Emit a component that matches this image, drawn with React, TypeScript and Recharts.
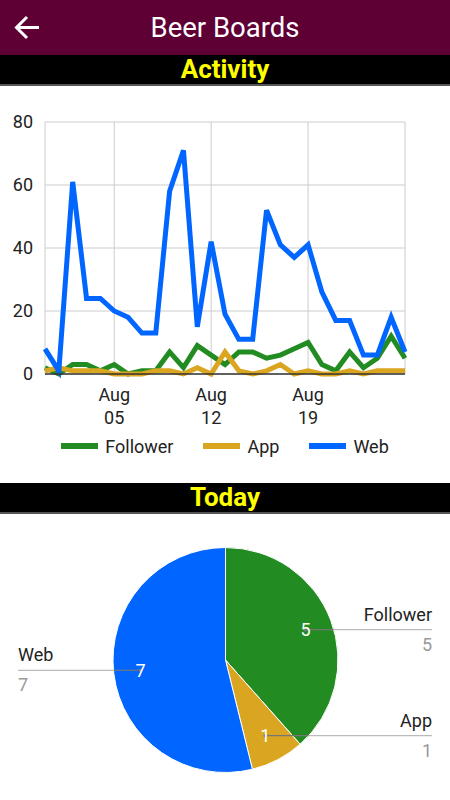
import React from "react";
import { CartesianGrid, Legend, Line, LineChart, Pie, PieChart, Cell, XAxis, YAxis } from "recharts";

const days = [
  "Jul 31", "Aug 01", "Aug 02", "Aug 03", "Aug 04", "Aug 05", "Aug 06", "Aug 07", "Aug 08",
  "Aug 09", "Aug 10", "Aug 11", "Aug 12", "Aug 13", "Aug 14", "Aug 15", "Aug 16", "Aug 17",
  "Aug 18", "Aug 19", "Aug 20", "Aug 21", "Aug 22", "Aug 23", "Aug 24", "Aug 25", "Aug 26",
];
const follower = [2, 0, 3, 3, 1, 3, 0, 1, 1, 7, 2, 9, 6, 3, 7, 7, 5, 6, 8, 10, 3, 1, 7, 2, 5, 12, 5];
const app = [1, 2, 1, 1, 1, 0, 0, 0, 1, 1, 0, 2, 0, 7, 1, 0, 1, 3, 0, 1, 0, 0, 1, 0, 1, 1, 1];
const web = [8, 1, 61, 24, 24, 20, 18, 13, 13, 58, 71, 15, 42, 19, 11, 11, 52, 41, 37, 41, 26, 17, 17, 6, 6, 18, 7];
const xTicks = ["Aug 05", "Aug 12", "Aug 19"];
const yTicks = [0, 20, 40, 60, 80];
const seriesOrder = ["Follower", "App", "Web"];

const todayNames = ["Follower", "App", "Web"];
const todayValues = [5, 1, 7];

const COLORS = { Follower: "#228b22", App: "#daa520", Web: "#0066ff" };
const FONT = "Roboto, 'Noto Sans', sans-serif";
const FS = 18;

const activity = days.map((d, i) => ({ day: d, Follower: follower[i], App: app[i], Web: web[i] }));
const today = todayNames.map((n, i) => ({ name: n, value: todayValues[i] }));

function DateTick(props: any) {
  const { x, y, payload } = props;
  const [mon, dd] = String(payload.value).split(" ");
  return (
    <g>
      <text x={x} y={y + 27} textAnchor="middle" fill="#222" fontSize={FS} fontFamily={FONT}>{mon}</text>
      <text x={x} y={y + 50} textAnchor="middle" fill="#222" fontSize={FS} fontFamily={FONT}>{dd}</text>
    </g>
  );
}

function LegendRow(props: any) {
  const items = [...(props.payload || [])].sort(
    (a: any, b: any) => seriesOrder.indexOf(a.value) - seriesOrder.indexOf(b.value)
  );
  return (
    <div style={{ display: "flex", justifyContent: "center", alignItems: "center", height: 40, fontFamily: FONT, fontSize: FS, color: "#222" }}>
      {items.map((it: any, i: number) => (
        <div key={it.value} style={{ display: "flex", alignItems: "center", marginRight: i < items.length - 1 ? 30 : 0 }}>
          <span style={{ display: "inline-block", width: 37, height: 6, background: it.color, marginRight: 7 }} />
          <span>{it.value}</span>
        </div>
      ))}
    </div>
  );
}

const RAD = Math.PI / 180;

function SliceLabel(props: any) {
  const { cx, cy, midAngle, outerRadius, name, value } = props;
  const r = outerRadius * 0.76;
  const lx = cx + r * Math.cos(-midAngle * RAD);
  const ly = cy + r * Math.sin(-midAngle * RAD);
  const right = lx >= cx;
  const edge = cx + (right ? 1 : -1) * Math.sqrt(Math.max(outerRadius * outerRadius - (ly - cy) * (ly - cy), 0));
  const endX = right ? 432 : 18;
  const anchor = right ? "end" : "start";
  return (
    <g>
      <line x1={lx} y1={ly} x2={edge} y2={ly} stroke="#777" strokeWidth={1.2} />
      <line x1={edge} y1={ly} x2={endX} y2={ly} stroke="#bbb" strokeWidth={1.2} />
      <circle cx={lx} cy={ly} r={1.8} fill="#777" />
      <text x={lx} y={ly + 6.5} textAnchor="middle" fill="#fff" fontSize={FS} fontFamily={FONT}>{value}</text>
      <text x={endX} y={ly - 9} textAnchor={anchor} fill="#222" fontSize={FS} fontFamily={FONT}>{name}</text>
      <text x={endX} y={ly + 21} textAnchor={anchor} fill="#999" fontSize={FS} fontFamily={FONT}>{value}</text>
    </g>
  );
}

function Bar({ top, title }: { top: number; title: string }) {
  return (
    <div style={{ position: "absolute", top, left: 0, width: 450, height: 29, background: "#000", borderBottom: "2px solid #555", color: "#ffff00", fontFamily: FONT, fontWeight: 700, fontSize: 26, textAlign: "center", lineHeight: "29px" }}>
      {title}
    </div>
  );
}

export default function App() {
  return (
    <div style={{ position: "absolute", top: 0, left: 0, width: 450, height: 800, background: "#fff", overflow: "hidden" }}>
      <div style={{ position: "absolute", top: 0, left: 0, width: 450, height: 55, background: "#5f0034" }}>
        <svg width={50} height={55} style={{ position: "absolute", left: 0, top: 0 }}>
          <path d="M17 27.5H39M27 17L16.5 27.5L27 38" stroke="#fff" strokeWidth={3} fill="none" />
        </svg>
        <div style={{ position: "absolute", left: 0, width: 450, top: 0, lineHeight: "55px", textAlign: "center", color: "#fff", fontFamily: FONT, fontSize: 27.5 }}>
          Beer Boards
        </div>
      </div>
      <Bar top={55} title="Activity" />
      <div style={{ position: "absolute", top: 86, left: 0 }}>
        <LineChart width={450} height={390} data={activity} margin={{ top: 36, right: 45, left: 0, bottom: 10 }}>
          <CartesianGrid stroke="#ccc" strokeWidth={1} />
          <XAxis dataKey="day" ticks={xTicks} tick={<DateTick />} tickLine={false} tickSize={0} tickMargin={0} height={52} axisLine={{ stroke: "#333", strokeWidth: 1.5 }} interval={0} />
          <YAxis domain={[0, 80]} ticks={yTicks} width={45} axisLine={false} tickLine={false} tickMargin={6} tick={{ fill: "#222", fontSize: FS, fontFamily: FONT }} />
          <Legend verticalAlign="bottom" height={40} content={<LegendRow />} wrapperStyle={{ left: 0, width: 450 }} />
          <Line dataKey="Follower" stroke={COLORS.Follower} strokeWidth={5} dot={false} isAnimationActive={false} />
          <Line dataKey="App" stroke={COLORS.App} strokeWidth={5} dot={false} isAnimationActive={false} />
          <Line dataKey="Web" stroke={COLORS.Web} strokeWidth={5} dot={false} isAnimationActive={false} />
        </LineChart>
      </div>
      <Bar top={483} title="Today" />
      <div style={{ position: "absolute", top: 515, left: 0 }}>
        <PieChart width={450} height={285} margin={{ top: 0, right: 0, bottom: 0, left: 0 }}>
          <Pie data={today} dataKey="value" nameKey="name" cx={225.5} cy={145} outerRadius={112.5} startAngle={90} endAngle={-270}
            stroke="#fff" strokeWidth={1} label={<SliceLabel />} labelLine={false} isAnimationActive={false}>
            {today.map((d) => (
              <Cell key={d.name} fill={(COLORS as any)[d.name]} />
            ))}
          </Pie>
        </PieChart>
      </div>
    </div>
  );
}
